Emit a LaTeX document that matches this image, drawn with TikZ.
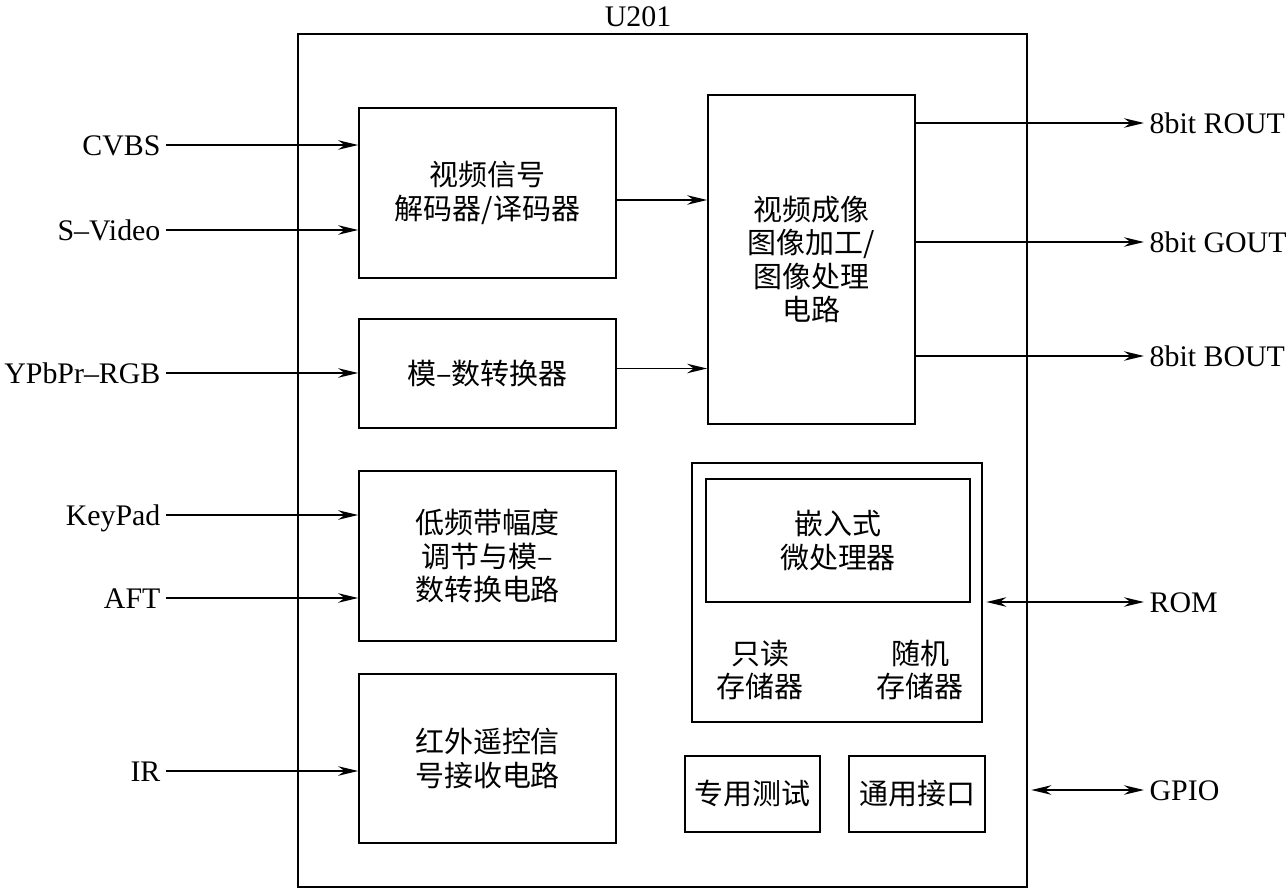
\documentclass[tikz,border=0pt]{standalone}
\usepackage{fontspec}
\setmainfont{Liberation Serif}
\newfontfamily\cjk{Noto Sans CJK SC}
\usetikzlibrary{arrows.meta,positioning}

\begin{document}
\begin{tikzpicture}[
    x=0.02cm, y=-0.02cm,
    font=\fontsize{17}{19}\selectfont,
    >={Stealth[length=4mm,width=1.9mm]},
    blk/.style={rectangle, draw=black, line width=1pt, align=center, inner sep=2pt,
      font=\cjk\fontsize{16.5}{19}\selectfont},
    txt/.style={align=center, inner sep=0pt, font=\cjk\fontsize{16.5}{19}\selectfont},
    sig/.style={->, line width=0.9pt},
    bus/.style={<->, line width=0.9pt},
    lbl/.style={inner sep=3pt, text height=11.4pt, text depth=0pt}
  ]
  \useasboundingbox (0,0) rectangle (1288,889);
  % chip outline
  \node[rectangle, draw=black, line width=1pt, minimum width=14.58cm, minimum height=17.06cm]
    (chip) at (662.5,460.5) {};
  \node[lbl] (u201) at (638,16) {U201};
  % left column
  \node[blk, minimum width=5.14cm, minimum height=3.4cm] (dec) at (487.5,193)
    {视频信号\\解码器/译码器};
  \node[blk, minimum width=5.14cm, minimum height=2.18cm] (adc) at (487.5,373.5)
    {模–数转换器};
  \node[blk, minimum width=5.14cm, minimum height=3.4cm] (lfa) at (487.5,556)
    {低频带幅度\\调节与模–\\数转换电路};
  \node[blk, minimum width=5.14cm, minimum height=3.38cm] (irx) at (487.5,758.5)
    {红外遥控信\\号接收电路};
  % right column
  \node[blk, minimum width=4.14cm, minimum height=6.58cm] (vid) at (811.5,259.5)
    {视频成像\\图像加工/\\图像处理\\电路};
  \node[blk, minimum width=5.8cm, minimum height=5.18cm] (mcu) at (837,592.5) {};
  \node[blk, minimum width=5.28cm, minimum height=2.46cm] (cpu) at (838,540.5)
    {嵌入式\\微处理器};
  \node[txt] (rom) at (760,670) {只读\\存储器};
  \node[txt] (ram) at (920,670) {随机\\存储器};
  \node[blk, minimum width=2.7cm, minimum height=1.52cm] (tst) at (752.5,794) {专用测试};
  \node[blk, minimum width=2.72cm, minimum height=1.52cm] (gio) at (917,794) {通用接口};
  % inputs
  \node[lbl, anchor=east] (cvbs) at (166,145) {CVBS};
  \node[lbl, anchor=east] (svid) at (166,230) {S–Video};
  \node[lbl, anchor=east] (ypb) at (166,373) {YPbPr–RGB};
  \node[lbl, anchor=east] (kpad) at (166,515) {KeyPad};
  \node[lbl, anchor=east] (aft) at (166,598) {AFT};
  \node[lbl, anchor=east] (ir) at (166,771) {IR};
  \draw[sig] (cvbs.east) -- (cvbs.east -| dec.west);
  \draw[sig] (svid.east) -- (svid.east -| dec.west);
  \draw[sig] (ypb.east) -- (ypb.east -| adc.west);
  \draw[sig] (kpad.east) -- (kpad.east -| lfa.west);
  \draw[sig] (aft.east) -- (aft.east -| lfa.west);
  \draw[sig] (ir.east) -- (ir.east -| irx.west);
  % internal
  \draw[sig] ([yshift=-0.14cm]dec.east) -- ([yshift=-0.14cm]dec.east -| vid.west);
  \draw[sig] ([yshift=0.1cm]adc.east) -- ([yshift=0.1cm]adc.east -| vid.west);
  % outputs
  \node[lbl, anchor=west] (rout) at (1144,123) {8bit ROUT};
  \node[lbl, anchor=west] (gout) at (1144,242) {8bit GOUT};
  \node[lbl, anchor=west] (bout) at (1144,356) {8bit BOUT};
  \node[lbl, anchor=west] (romio) at (1144,602) {ROM};
  \node[lbl, anchor=west] (gpio) at (1144,790) {GPIO};
  \draw[sig] (rout.west -| vid.east) -- (rout.west);
  \draw[sig] (gout.west -| vid.east) -- (gout.west);
  \draw[sig] (bout.west -| vid.east) -- (bout.west);
  \draw[bus] ([xshift=2pt]romio.west -| mcu.east) -- (romio.west);
  \draw[bus] ([xshift=2pt]gpio.west -| chip.east) -- (gpio.west);
\end{tikzpicture}
\end{document}
